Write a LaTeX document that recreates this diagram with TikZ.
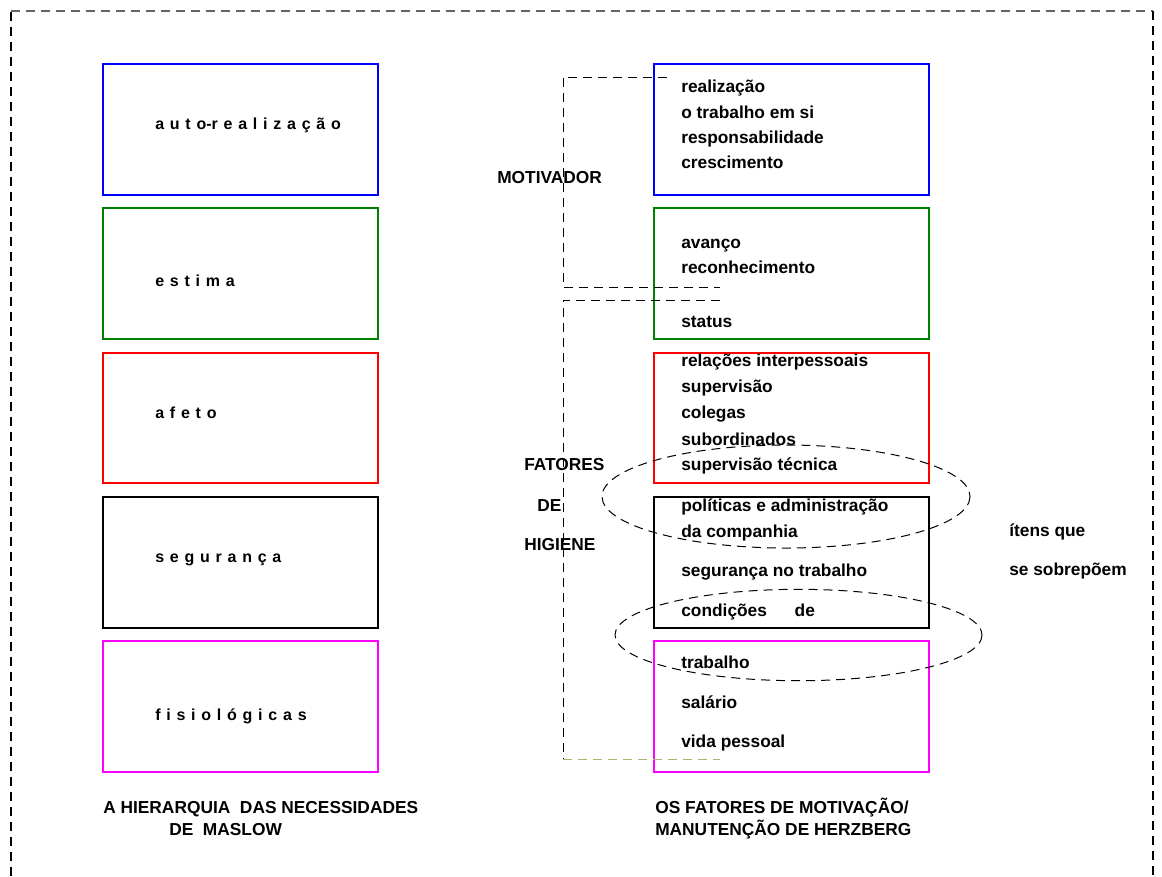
\documentclass[tikz,border=0pt]{standalone}
\usepackage{fontspec}
\setmainfont{Liberation Sans}
\usetikzlibrary{fit}

\definecolor{needblue}{RGB}{0,0,255}
\definecolor{needgreen}{RGB}{0,128,0}
\definecolor{needred}{RGB}{255,0,0}
\definecolor{needmagenta}{RGB}{255,0,255}
\definecolor{baseolive}{RGB}{176,176,112}
\definecolor{framegray}{RGB}{100,100,100}

% wider inter-word space for the letter-spaced need labels
\newcommand{\widespacing}{\spaceskip=0.36em\relax}

\begin{document}
\begin{tikzpicture}[x=0.75pt,y=-0.75pt,
  needbox/.style={draw=#1, line width=1.5pt, inner sep=0pt},
  txt/.style={anchor=base west, inner sep=0pt, font=\fontsize{13}{15}\selectfont\bfseries},
  spaced/.style={anchor=base west, inner sep=0pt,
    font=\fontsize{12}{14}\selectfont\bfseries\widespacing},
  dashline/.style={line width=0.75pt, dash pattern=on 6.75pt off 4.5pt},
  framedash/.style={line width=0.9pt, dash pattern=on 6.75pt off 4.5pt},
]
\useasboundingbox (0,0) rectangle (1162,876);

% outer frame
\coordinate (fbl) at (11,876);
\coordinate (ftl) at (11,11);
\coordinate (ftr) at (1153,11);
\coordinate (fbr) at (1153,876);
\draw[framedash, black] (fbl) -- (ftl);
\draw[framedash, framegray] (ftl) -- (ftr);
\draw[framedash, black] (ftr) -- (fbr);

% Maslow hierarchy (left column)
\node[needbox=needblue,    fit={(103,64) (378,195)}]  (m1) {};
\node[needbox=needgreen,   fit={(103,208) (378,339)}] (m2) {};
\node[needbox=needred,     fit={(103,353) (378,483)}] (m3) {};
\node[needbox=black,       fit={(103,497) (378,628)}] (m4) {};
\node[needbox=needmagenta, fit={(103,641) (378,772)}] (m5) {};

\node[spaced] (l1) at (155,129) {a u t o-r e a l i z a ç ã o};
\node[spaced] (l2) at (155,286) {e s t i m a};
\node[spaced] (l3) at (155,418) {a f e t o};
\node[spaced] (l4) at (155,562) {s e g u r a n ç a};
\node[spaced] (l5) at (155,720) {f i s i o l ó g i c a s};

% Herzberg factors (right column)
\node[needbox=needblue,    fit={(654,64) (929,195)}]  (h1) {};
\node[needbox=needgreen,   fit={(654,208) (929,339)}] (h2) {};
\node[needbox=needred,     fit={(654,353) (929,483)}] (h3) {};
\node[needbox=black,       fit={(654,497) (929,628)}] (h4) {};
\node[needbox=needmagenta, fit={(654,641) (929,772)}] (h5) {};

\node[txt] (r1)  at (681,92)  {realização};
\node[txt] (r2)  at (681,118) {o trabalho em si};
\node[txt] (r3)  at (681,143) {responsabilidade};
\node[txt] (r4)  at (681,168) {crescimento};
\node[txt] (r5)  at (681,248) {avanço};
\node[txt] (r6)  at (681,273) {reconhecimento};
\node[txt] (r7)  at (681,327) {status};
\node[txt] (r8)  at (681,366) {relações interpessoais};
\node[txt] (r9)  at (681,392) {supervisão};
\node[txt] (r10) at (681,418) {colegas};
\node[txt] (r11) at (681,445) {subordinados};
\node[txt] (r12) at (681,470) {supervisão técnica};
\node[txt] (r13) at (681,511) {políticas e administração};
\node[txt] (r14) at (681,537) {da companhia};
\node[txt] (r15) at (681,576) {segurança no trabalho};
\node[txt] (r16) at (681,616) {condições\hspace{1.6em}de};
\node[txt] (r17) at (681,668) {trabalho};
\node[txt] (r18) at (681,708) {salário};
\node[txt] (r19) at (681,747) {vida pessoal};

% motivator / hygiene brackets
\coordinate (mt0) at (667,77);
\coordinate (mt1) at (563,77);
\coordinate (mt2) at (563,287);
\coordinate (mt3) at (720,287);
\draw[dashline] (mt0) -- (mt1) -- (mt2) -- (mt3);

\coordinate (hy0) at (720,300);
\coordinate (hy1) at (563,300);
\coordinate (hy2) at (563,759);
\coordinate (hy3) at (720,759);
\draw[dashline] (hy0) -- (hy1) -- (hy2);
\draw[dashline, baseolive] (hy2) -- (hy3);

\node[txt] (mot) at (497,183) {MOTIVADOR};
\node[txt] (fat) at (524,470) {FATORES};
\node[txt] (fde) at (537,511) {DE};
\node[txt] (hig) at (524,550) {HIGIENE};

% overlapping items
\draw[dashline] (786,496.5) ellipse [x radius=184, y radius=51.5];
\draw[dashline] (798.5,635) ellipse [x radius=183.5, y radius=45.7];
\node[txt] (ov1) at (1009,536) {ítens que};
\node[txt] (ov2) at (1009,575) {se sobrepõem};

% captions
\node[txt] (c1) at (103,813) {A HIERARQUIA\ \ DAS NECESSIDADES};
\node[txt] (c2) at (169,835) {DE\ \ MASLOW};
\node[txt] (c3) at (655,813) {OS FATORES DE MOTIVAÇÃO/};
\node[txt] (c4) at (655,835) {MANUTENÇÃO DE HERZBERG};
\end{tikzpicture}
\end{document}
